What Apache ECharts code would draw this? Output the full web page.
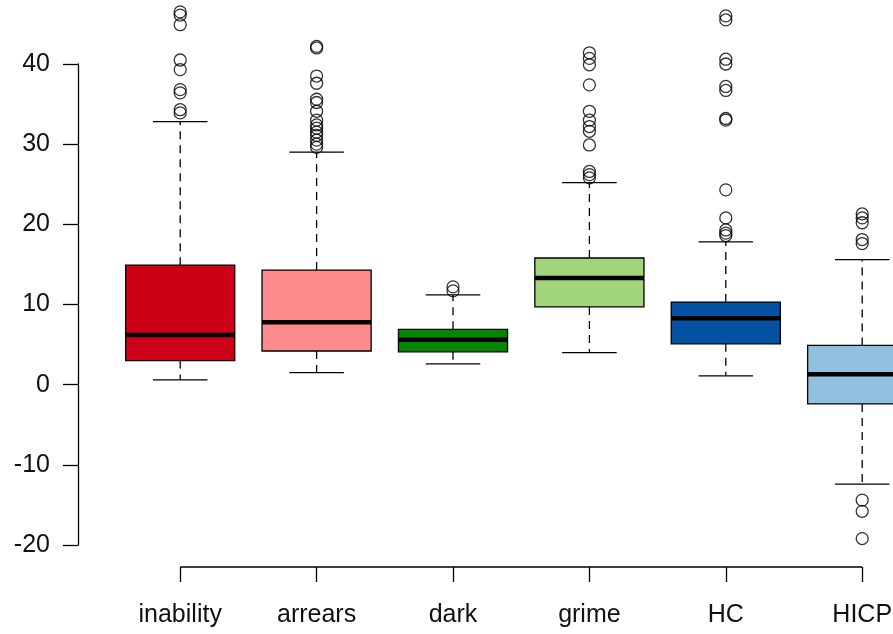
<!DOCTYPE html>
<html>
<head>
<meta charset="utf-8">
<script src="https://cdn.jsdelivr.net/npm/echarts@6/dist/echarts.min.js"></script>
<style>
html,body{margin:0;padding:0;background:#fff;}
#chart{width:893px;height:634px;}
</style>
</head>
<body>
<div id="chart"></div>
<script>
var categories = ['inability', 'arrears', 'dark', 'grime', 'HC', 'HICP'];
var boxColors = ['#CC0016', '#FE8B8B', '#038703', '#A2D47C', '#0352A3', '#91BFDF'];
var whiskerLow  = [0.6, 1.5, 2.6, 4.0, 1.1, -12.4];
var q1          = [3.0, 4.2, 4.1, 9.7, 5.1, -2.4];
var median      = [6.2, 7.8, 5.6, 13.3, 8.3, 1.3];
var q3          = [14.9, 14.3, 6.9, 15.8, 10.3, 4.9];
var whiskerHigh = [32.8, 29.0, 11.2, 25.2, 17.8, 15.6];
var outInability = [46.5, 46.1, 44.9, 40.5, 39.3, 36.8, 36.4, 34.3, 33.9];
var outArrears = [42.2, 42.0, 38.5, 37.6, 35.6, 35.2, 34.1, 33.0, 32.4, 32.0, 31.5, 31.1, 30.5, 30.0, 29.6];
var outDark = [12.2, 11.7];
var outGrime = [41.4, 40.7, 39.9, 37.4, 34.1, 33.0, 32.2, 31.6, 29.9, 26.6, 26.2, 25.8];
var outHC = [46.0, 45.5, 40.6, 40.0, 37.2, 36.7, 33.2, 33.0, 24.3, 20.8, 19.3, 18.9, 18.6];
var outHICP = [21.3, 20.8, 20.2, 18.1, 17.6, -14.4, -15.8, -19.2];
var yTicks = [-20, -10, 0, 10, 20, 30, 40];

var outliers = [outInability, outArrears, outDark, outGrime, outHC, outHICP];
var boxData = categories.map(function (c, i) {
  return [i, whiskerLow[i], q1[i], median[i], q3[i], whiskerHigh[i]];
});
var outData = [];
outliers.forEach(function (arr, i) {
  arr.forEach(function (v) { outData.push([i, v]); });
});

var chart = echarts.init(document.getElementById('chart'));
var FONT = 'Liberation Sans, Arial, Helvetica, sans-serif';

function renderBox(params, api) {
  var x = api.value(0);
  var pLow = api.coord([x, api.value(1)]);
  var pQ1 = api.coord([x, api.value(2)]);
  var pMed = api.coord([x, api.value(3)]);
  var pQ3 = api.coord([x, api.value(4)]);
  var pHigh = api.coord([x, api.value(5)]);
  var band = api.size([1, 0])[0];
  var bw = band * 0.8;
  var cw = band * 0.4;
  var cx = pMed[0];
  var dash = { stroke: '#000', lineWidth: 1.3, lineDash: [8, 6] };
  var solid = { stroke: '#000', lineWidth: 1.3 };
  return {
    type: 'group',
    children: [
      { type: 'line', shape: { x1: cx, y1: pQ3[1], x2: cx, y2: pHigh[1] }, style: dash },
      { type: 'line', shape: { x1: cx, y1: pQ1[1], x2: cx, y2: pLow[1] }, style: dash },
      { type: 'line', shape: { x1: cx - cw / 2, y1: pHigh[1], x2: cx + cw / 2, y2: pHigh[1] }, style: solid },
      { type: 'line', shape: { x1: cx - cw / 2, y1: pLow[1], x2: cx + cw / 2, y2: pLow[1] }, style: solid },
      { type: 'rect', shape: { x: cx - bw / 2, y: pQ3[1], width: bw, height: pQ1[1] - pQ3[1] },
        style: { fill: boxColors[params.dataIndex], stroke: '#000', lineWidth: 1.3 } },
      { type: 'line', shape: { x1: cx - bw / 2, y1: pMed[1], x2: cx + bw / 2, y2: pMed[1] },
        style: { stroke: '#000', lineWidth: 4.5 } }
    ]
  };
}

function renderXAxisLine(params, api) {
  var a = api.coord([0, -20]);
  var b = api.coord([categories.length - 1, -20]);
  var y = a[1] + 22;
  return { type: 'line', shape: { x1: a[0], y1: y, x2: b[0], y2: y }, style: { stroke: '#000', lineWidth: 1.3 } };
}

chart.setOption({
  animation: false,
  backgroundColor: '#fff',
  grid: { left: 112, top: 64, width: 818.4, height: 481, containLabel: false, outerBoundsMode: 'none' },
  xAxis: {
    type: 'category',
    data: categories,
    boundaryGap: true,
    offset: 22,
    axisLine: { show: false, onZero: false },
    axisTick: { show: true, alignWithLabel: true, length: 15, lineStyle: { color: '#000', width: 1.3 } },
    axisLabel: { color: '#111', fontSize: 25, fontFamily: FONT, margin: 36, interval: 0 },
    splitLine: { show: false }
  },
  yAxis: {
    type: 'value',
    min: yTicks[0],
    max: yTicks[yTicks.length - 1],
    interval: 10,
    offset: 34,
    axisLine: { show: true, lineStyle: { color: '#000', width: 1.3 } },
    axisTick: { show: true, length: 15, lineStyle: { color: '#000', width: 1.3 } },
    axisLabel: { color: '#111', fontSize: 25, fontFamily: FONT, margin: 28 },
    splitLine: { show: false }
  },
  series: [
    { type: 'custom', data: [[0]], renderItem: renderXAxisLine, clip: false, silent: true },
    { type: 'custom', data: boxData, renderItem: renderBox, clip: false, silent: true,
      encode: { x: 0, y: [1, 2, 3, 4, 5] } },
    { type: 'scatter', data: outData, symbol: 'circle', symbolSize: 12, clip: false, silent: true,
      itemStyle: { color: 'rgba(0,0,0,0)', borderColor: '#000', borderWidth: 1.3 } }
  ]
});
</script>
</body>
</html>
